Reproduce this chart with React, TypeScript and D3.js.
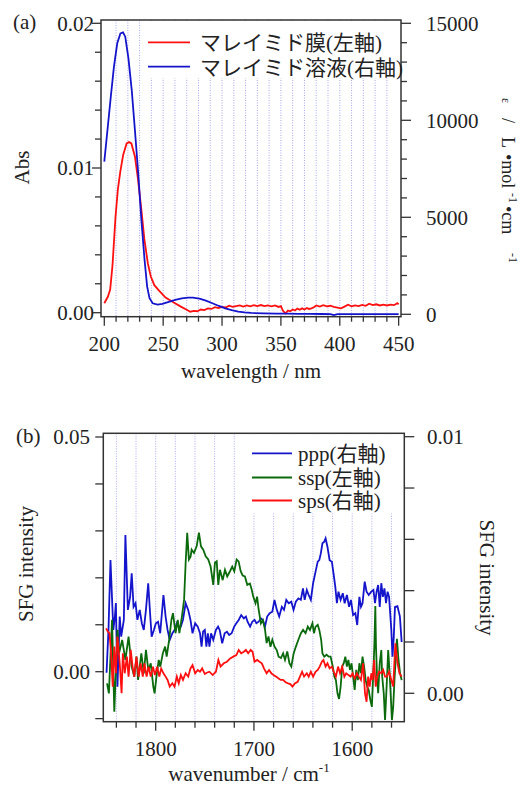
import React from "react";
import * as d3 from "d3";

// (a) UV spectra: [wavelength nm, value]
const FILM_ABS: [number, number][] = [
  [200, 0.00065], [203, 0.0011], [205, 0.0016], [207, 0.0033], [209.5, 0.0066], [211.5, 0.0085],
  [213.5, 0.0097], [216, 0.0109], [219, 0.0117], [221, 0.0118], [223, 0.0117], [226, 0.0108],
  [228.5, 0.0093], [231.5, 0.0071], [234, 0.0051], [237, 0.0034], [239.5, 0.0025], [242.5, 0.0019],
  [246.5, 0.00152], [252, 0.00105], [259, 0.0007], [265, 0.00042], [270, 0.0002], [273, 0.00007],
  [276, 0.00012], [279, 0.0001], [282, 0.00022], [285, 0.00018], [288, 0.0003], [291, 0.00026],
  [294, 0.00038], [297, 0.00032], [300, 0.0004], [303, 0.00036], [306, 0.00048], [309, 0.0004],
  [312, 0.00046], [315, 0.0005], [318, 0.00042], [321, 0.0005], [324, 0.00044], [327, 0.00052],
  [330, 0.00046], [333, 0.00053], [336, 0.00045], [339, 0.0005], [342, 0.00044], [345, 0.0005],
  [348, 0.0004], [350, 0.00046], [352, 0.0001], [354, -0.00005], [356, 0.00015], [358, 0.0001],
  [360, 0.00022], [362, 0.00015], [364, 0.00028], [366, 0.0002], [368, 0.0003], [370, 0.00022],
  [372, 0.00032], [374, 0.00026], [376, 0.0003], [378, 0.00038], [380, 0.0005], [383, 0.00042],
  [386, 0.00052], [389, 0.00044], [392, 0.00048], [395, 0.0004], [398, 0.00035], [401, 0.0003],
  [404, 0.00042], [407, 0.00055], [410, 0.00044], [413, 0.0005], [416, 0.00046], [419, 0.00054],
  [422, 0.00048], [425, 0.00062], [428, 0.00052], [431, 0.00058], [434, 0.0005], [437, 0.00056],
  [440, 0.0005], [443, 0.00056], [446, 0.00052], [449, 0.00066], [450, 0.00058],
];

const SOLUTION_EPS: [number, number][] = [
  [200, 7870], [202.7, 9500], [205.5, 11200], [208.2, 12770], [211, 13970], [213.7, 14480],
  [215.9, 14530], [217.8, 14310], [220.5, 13190], [223.3, 11560], [226, 9500], [228.8, 7270],
  [231.5, 4860], [234.2, 2800], [236.4, 1430], [238.4, 830], [241.1, 570], [245.2, 500],
  [249.3, 540], [254.8, 640], [260.3, 740], [265.8, 820], [271.2, 860], [275.3, 860],
  [280.8, 810], [286.3, 705], [291.8, 570], [297.3, 430], [302.7, 310], [308.2, 220],
  [313.7, 140], [319.2, 100], [324.7, 70], [335.6, 50], [346.6, 35], [355, 30], [365, 25],
  [375, 20], [385, 15], [392, 10], [395, -40], [398, 5], [410, 10], [420, 5], [430, 10],
  [440, 5], [450, 10],
];

// (b) SFG spectra: [wavenumber cm-1, intensity]
const PPP: [number, number][] = [
  [1850, 0.0008], [1848, 0.0025], [1846, 0.00519], [1843.1, 0.00247], [1841.5, 0.003],
  [1840.5, 0.00352], [1838.9, 0.00026], [1836.6, 0.00299], [1835.1, 0.00221], [1832.4, 0.00286],
  [1830.8, 0.00617], [1828.3, 0.00325], [1826, 0.00376], [1824.4, 0.00468], [1822.5, 0.00337],
  [1820.5, 0.00351], [1818.6, 0.00286], [1816.2, 0.00325], [1814.1, 0.00273], [1812.1, 0.00247],
  [1809.9, 0.00325], [1807.6, 0.00429], [1805.7, 0.00312], [1804.1, 0.00221], [1801.8, 0.00247],
  [1799.8, 0.00273], [1797.6, 0.00279], [1795.4, 0.00234], [1792.1, 0.00383], [1789.9, 0.00299],
  [1787.9, 0.00247], [1785.7, 0.00208], [1783, 0.00234], [1780.8, 0.00247], [1778.5, 0.00273],
  [1776.5, 0.0026], [1774.4, 0.0026], [1772.2, 0.00286], [1769.5, 0.00351], [1766.9, 0.00325],
  [1764.6, 0.00286], [1762.5, 0.00234], [1759.8, 0.00273], [1757.2, 0.0026], [1754.9, 0.00234],
  [1753.3, 0.00182], [1751.8, 0.0024], [1750, 0.00247], [1748.4, 0.00182], [1746.9, 0.00234],
  [1745.3, 0.00182], [1743.6, 0.00234], [1741.4, 0.00208], [1738.7, 0.00247], [1736.5, 0.0026],
  [1734.9, 0.00247], [1732.3, 0.00195], [1729.8, 0.00234], [1727.5, 0.0024], [1725.2, 0.00227],
  [1722.7, 0.00234], [1720.1, 0.0026], [1717.9, 0.00273], [1715.5, 0.00286], [1713, 0.00305],
  [1710.3, 0.00292], [1708.2, 0.00299], [1706.5, 0.00279], [1703.9, 0.0026], [1701.7, 0.00279],
  [1699.4, 0.00286], [1697.5, 0.00273], [1695.2, 0.00279], [1692.9, 0.00292], [1691, 0.00286],
  [1688.8, 0.0026], [1686.5, 0.00299], [1684, 0.00312], [1681.3, 0.00318], [1679.1, 0.00364],
  [1676.7, 0.00325], [1674.3, 0.00299], [1671.6, 0.00337], [1669.4, 0.00325], [1667.1, 0.00364],
  [1664.6, 0.00351], [1662, 0.00357], [1659.7, 0.00325], [1657.4, 0.00357], [1654.8, 0.0037],
  [1652.3, 0.00364], [1650.1, 0.00409], [1648.4, 0.00364], [1646.2, 0.00403], [1644.3, 0.00383],
  [1642.1, 0.00364], [1639.8, 0.00429], [1637.3, 0.00474], [1635.1, 0.00513], [1633.5, 0.00519],
  [1631.9, 0.00546], [1630.3, 0.00585], [1628.4, 0.00591], [1627.1, 0.00604], [1625.2, 0.00571],
  [1623, 0.00519], [1620.7, 0.00513], [1618.8, 0.00461], [1617.2, 0.00415], [1615.6, 0.00351],
  [1614, 0.00396], [1611.8, 0.00364], [1609.6, 0.0039], [1607.7, 0.00351], [1605.4, 0.00383],
  [1603.2, 0.00337], [1601.3, 0.00364], [1599.1, 0.00305], [1596.8, 0.00312], [1594.9, 0.00266],
  [1592.7, 0.00376], [1591.1, 0.00337], [1589.5, 0.00351], [1587.3, 0.00435], [1585.4, 0.00396],
  [1583.2, 0.00383], [1580.6, 0.00396], [1578.4, 0.00403], [1576.8, 0.00351], [1575.2, 0.00396],
  [1573.6, 0.00422], [1572, 0.00337], [1570.4, 0.00429], [1568.8, 0.00376], [1567.2, 0.00409],
  [1565.6, 0.00351], [1564, 0.00396], [1562.5, 0.00376], [1560.2, 0.00247], [1559, 0.00143],
  [1557.7, 0.0022], [1556.5, 0.00337], [1554, 0.0034], [1551.5, 0.003], [1549.7, 0.002],
];

const SSP: [number, number][] = [
  [1849.5, -0.00248], [1847.6, -0.00462], [1844.4, 0.01105], [1842.1, -0.00855], [1838.9, 0.00891],
  [1837.3, 0.00393], [1834.1, 0.00677], [1830.8, 0.0025], [1827.6, 0.00748], [1824.4, 0.00107],
  [1821.8, -0.00107], [1819.5, 0.00321], [1817.9, -0.00177], [1814.6, 0.00393], [1812.1, -0.00034],
  [1809.9, 0.00464], [1807.5, 0.00036], [1805, 0.00179], [1802.4, -0.00321], [1801.1, -0.00462],
  [1799.2, -0.00107], [1796.9, 0.0025], [1795.3, 0.00107], [1792.7, 0.00393], [1790.4, 0.00534],
  [1788.8, 0.00321], [1786.3, 0.00677], [1784, 0.01105], [1782.4, 0.01248], [1779.8, 0.0082],
  [1777.5, 0.01105], [1775.9, 0.0082], [1773.3, 0.01175], [1771.1, 0.0153], [1769.5, 0.0232],
  [1767.9, 0.0296], [1766.2, 0.0239], [1764.5, 0.0245], [1763.4, 0.026], [1761, 0.0253],
  [1758.3, 0.0267], [1756, 0.0296], [1753.9, 0.0267], [1751.6, 0.026], [1749.1, 0.0246],
  [1746.5, 0.0239], [1744.1, 0.0224], [1741.4, 0.0185], [1739.7, 0.0232], [1737.9, 0.0235],
  [1736.3, 0.0185], [1734.6, 0.0217], [1731.8, 0.0195], [1729.5, 0.0217], [1727.2, 0.0203],
  [1724.4, 0.0214], [1722.1, 0.0224], [1720, 0.0214], [1717.6, 0.0239], [1715.6, 0.0235],
  [1713.5, 0.0214], [1711.5, 0.0205], [1709.2, 0.0203], [1706.8, 0.0185], [1704.1, 0.0188],
  [1702.3, 0.0175], [1700.7, 0.016], [1698.4, 0.0146], [1696.8, 0.016], [1695.2, 0.0132],
  [1692.9, 0.0103], [1690.9, 0.011], [1688.7, 0.0089], [1687.1, 0.0061], [1685.2, 0.0075],
  [1683.2, 0.0053], [1681.3, 0.0068], [1679, 0.0053], [1676.8, 0.0046], [1674.9, 0.0032],
  [1672.5, 0.0029], [1670.3, 0.0039], [1668.4, 0.0025], [1666.1, 0.0043], [1663.9, 0.0018],
  [1662, 0.0011], [1659.6, 0.0039], [1657.4, 0.0053], [1654.8, 0.0068], [1652.2, 0.0082],
  [1650, 0.0089], [1647.5, 0.0082], [1645.2, 0.0096], [1643, 0.0089], [1640.5, 0.0103],
  [1638.9, 0.0082], [1637.3, 0.0096], [1635.1, 0.01], [1633.5, 0.0089], [1631.6, 0.0068],
  [1630.3, 0.0039], [1628.4, 0.0032], [1626.1, 0.0036], [1623.9, 0.0032], [1622, 0.0032],
  [1619.8, 0.0011], [1618.2, -0.001], [1616.6, -0.0018], [1615, -0.0046], [1613.4, -0.0058],
  [1611.8, -0.0032], [1610.2, 0.0011], [1608.6, 0.0018], [1607, 0.0032], [1605.4, 0.0011],
  [1603.9, 0.0025], [1602.3, 0.0004], [1600.7, 0.0018], [1599.1, -0.001], [1597.5, -0.0039],
  [1595.9, 0.0004], [1594.3, -0.0018], [1592.7, 0.0018], [1591.1, -0.0003], [1589.5, 0.0032],
  [1587.9, 0.0011], [1586.3, -0.0018], [1584.7, -0.0032], [1583.2, -0.0039], [1581.6, -0.006],
  [1580, -0.0075], [1578.4, 0.0004], [1577.4, 0.0061], [1576.5, 0.014], [1575.8, 0.0053],
  [1574.6, -0.0018], [1573.6, -0.0046], [1572, 0.0018], [1570.4, 0.0046], [1569.5, -0.001],
  [1567.9, -0.0046], [1566.6, -0.0103], [1565, -0.0032], [1563.4, 0.0046], [1562.1, 0.0004],
  [1560.9, -0.0046], [1559.6, -0.0103], [1558.3, -0.0075], [1557, -0.0018], [1555.8, 0.0025],
  [1554.5, 0.007], [1552.9, 0.0025], [1551.3, -0.0003], [1549.7, -0.0018],
];

const SPS: [number, number][] = [
  [1850.5, 0.00253], [1848.6, 0.0024], [1847, 0.00234], [1845.4, 0.00156], [1843.7, 0.00026],
  [1842.1, 0.00182], [1840.5, 0.00078], [1838.9, 0.00221], [1836.6, 0.00117], [1834.7, 0.0],
  [1833.4, 0.00156], [1831.5, 0.00078], [1829.3, 0.00143], [1827.6, 0.00065], [1825.4, 0.00169],
  [1823.5, 0.00104], [1821.8, 0.00065], [1819.6, 0.00143], [1817.3, 0.00065], [1815.3, 0.00117],
  [1813.1, 0.00065], [1811.5, 0.00117], [1809.2, 0.00065], [1807.3, 0.00104], [1805, 0.00065],
  [1802.7, 0.00104], [1800.8, 0.00071], [1798.5, 0.00104], [1796.3, 0.00065], [1794.4, 0.00097],
  [1792.1, 0.00078], [1789.9, 0.00065], [1787.9, 0.00052], [1785.7, 0.00026], [1783, 0.00039],
  [1780.8, 0.00026], [1778.5, 0.00065], [1776.5, 0.00039], [1774.4, 0.00071], [1772.2, 0.00052],
  [1769.5, 0.00078], [1766.9, 0.00065], [1764.6, 0.00097], [1762.5, 0.0011], [1759.8, 0.00078],
  [1757.2, 0.00091], [1754.9, 0.00084], [1752.7, 0.00097], [1750, 0.00075], [1748, 0.0008],
  [1745.3, 0.00084], [1742, 0.00071], [1738.7, 0.00084], [1736.2, 0.0013], [1734, 0.00104],
  [1730.7, 0.00117], [1727.5, 0.00123], [1724.2, 0.00136], [1721, 0.00143], [1717.9, 0.00149],
  [1715.5, 0.00169], [1713, 0.00156], [1710.3, 0.00162], [1708.2, 0.00169], [1705.9, 0.00156],
  [1703.3, 0.00169], [1701.4, 0.00162], [1699.4, 0.00123], [1696.8, 0.0013], [1694.3, 0.00123],
  [1692, 0.00117], [1689.8, 0.00097], [1687.1, 0.00078], [1684.6, 0.00091], [1682.3, 0.00078],
  [1680.1, 0.00071], [1677.5, 0.00065], [1674.9, 0.00058], [1672.7, 0.00052], [1670.4, 0.00052],
  [1667.8, 0.00043], [1665.3, 0.00039], [1663, 0.00036], [1660.8, 0.00026], [1658.1, 0.00039],
  [1655.5, 0.00045], [1653.2, 0.00065], [1651, 0.00084], [1649, 0.00065], [1646.2, 0.00078],
  [1644.3, 0.00065], [1642.1, 0.00084], [1639.8, 0.00065], [1637.3, 0.00084], [1635.1, 0.00091],
  [1633.1, 0.00104], [1630.9, 0.00123], [1629.3, 0.0013], [1627.1, 0.00104], [1625.2, 0.00117],
  [1623, 0.00097], [1620.7, 0.00104], [1618.8, 0.00084], [1616.6, 0.00065], [1614.4, 0.00104],
  [1612.4, 0.00078], [1610.2, 0.00104], [1608, 0.00065], [1606.1, 0.00078], [1603.8, 0.00071],
  [1601.6, 0.00065], [1599.7, 0.00078], [1597.5, 0.00058], [1595.3, 0.00078], [1593.3, 0.00065],
  [1591.1, 0.00052], [1588.9, 0.00117], [1587, 0.0], [1585.4, -0.00033], [1583.8, 0.00065],
  [1582.2, 0.00026], [1580.6, 0.00078], [1579.3, 0.00052], [1577.7, 0.0013], [1576.1, 0.00026],
  [1574.6, 0.00065], [1572.6, 0.00084], [1570.4, 0.00078], [1568.5, 0.00091], [1566.6, 0.00065],
  [1564.7, 0.00065], [1562.5, 0.00084], [1560.2, 0.00052], [1558.3, 0.00026], [1556.1, 0.00195],
  [1553.9, 0.00117], [1551.9, 0.00078], [1549.7, 0.00065],
];

const TOP_X_TICKS = d3.range(200, 451, 10);
const TOP_X_LABELS = [200, 250, 300, 350, 400, 450];
const ABS_TICKS = d3.range(0, 0.0201, 0.002);
const ABS_LABELS = [0, 0.01, 0.02];
const EPS_TICKS = d3.range(0, 15001, 1000);
const EPS_LABELS = [0, 5000, 10000, 15000];
const WN_TICKS = d3.range(1840, 1559, -20);
const WN_LABELS = [1800, 1700, 1600];
const SSP_TICKS = d3.range(-0.01, 0.0501, 0.01);
const SSP_LABELS = [0, 0.05];
const PS_TICKS = d3.range(0, 0.01001, 0.002);
const PS_LABELS = [0, 0.01];

const SERIF = "'Liberation Serif', 'Times New Roman', serif";
const JP = "'Liberation Serif', 'Noto Sans CJK JP', sans-serif";
const RED = "#ff1010";
const BLUE = "#1414cc";
const GREEN = "#0b6a0b";
const AXIS = "#333";
const GRID = "#a8a8f0";

export default function App() {
  // panel (a)
  const xNm = d3.scaleLinear().domain([197.2, 452]).range([101, 401]);
  const yAbs = d3.scaleLinear().domain([0, 0.02]).range([312.7, 23.3]);
  const yEps = d3.scaleLinear().domain([0, 15000]).range([314.3, 23.3]);
  const A = { l: 101, r: 401, t: 20, b: 316.7 };

  // panel (b)
  const xWn = d3.scaleLinear().domain([1853.3, 1547]).range([103.3, 404.3]);
  const ySsp = d3.scaleLinear().domain([0, 0.05]).range([671.7, 437]);
  const yPs = d3.scaleLinear().domain([0, 0.01]).range([693.3, 436.7]);
  const B = { l: 103.3, r: 404.3, t: 433.3, b: 721.7 };

  const lineA = (y: d3.ScaleLinear<number, number>) =>
    d3.line<[number, number]>().x((d) => xNm(d[0])).y((d) => y(d[1]));
  const lineB = (y: d3.ScaleLinear<number, number>) =>
    d3.line<[number, number]>().x((d) => xWn(d[0])).y((d) => y(d[1]));

  const f2 = d3.format(".2f");

  return (
    <svg
      width={532}
      height={787}
      style={{ position: "absolute", left: 0, top: 0, background: "#fff" }}
      fontFamily={SERIF}
    >
      <rect width={532} height={787} fill="#fff" />

      {/* ---------- (a) ---------- */}
      {TOP_X_TICKS.slice(1, -1).map((t) => (
        <line key={"ga" + t} x1={xNm(t)} x2={xNm(t)} y1={A.t} y2={A.b}
          stroke={GRID} strokeDasharray="1,1.5" strokeWidth={1} />
      ))}
      <rect x={146} y={A.t + 1} width={A.r - 147} height={57} fill="#fff" />

      <path d={lineA(yAbs)(FILM_ABS) ?? ""} fill="none" stroke={RED} strokeWidth={1.8} />
      <path d={lineA(yEps)(SOLUTION_EPS) ?? ""} fill="none" stroke={BLUE} strokeWidth={1.8} />

      <rect x={A.l} y={A.t} width={A.r - A.l} height={A.b - A.t} fill="none" stroke={AXIS} strokeWidth={1.5} />

      {ABS_TICKS.map((t) => {
        const major = ABS_LABELS.some((v) => Math.abs(v - t) < 1e-9);
        return <line key={"ta" + t} x1={A.l} x2={A.l - (major ? 9 : 6)} y1={yAbs(t)} y2={yAbs(t)} stroke={AXIS} strokeWidth={1.3} />;
      })}
      {ABS_LABELS.map((t) => (
        <text key={"la" + t} x={94} y={yAbs(t)} dy="0.35em" textAnchor="end" fontSize={21} fill="#222">{f2(t)}</text>
      ))}
      {EPS_TICKS.map((t) => {
        const major = EPS_LABELS.includes(t);
        return <line key={"te" + t} x1={A.r} x2={A.r + (major ? 10 : 6)} y1={yEps(t)} y2={yEps(t)} stroke={AXIS} strokeWidth={1.3} />;
      })}
      {EPS_LABELS.map((t) => (
        <text key={"le" + t} x={426} y={yEps(t)} dy="0.35em" fontSize={21} fill="#222">{t}</text>
      ))}
      {TOP_X_TICKS.map((t) => {
        const major = TOP_X_LABELS.includes(t);
        return <line key={"tx" + t} x1={xNm(t)} x2={xNm(t)} y1={A.b} y2={A.b + (major ? 9 : 5)} stroke={AXIS} strokeWidth={1.3} />;
      })}
      {TOP_X_LABELS.map((t) => (
        <text key={"lx" + t} x={xNm(t)} y={351} textAnchor="middle" fontSize={21} fill="#222">{t}</text>
      ))}
      <text x={251} y={378} textAnchor="middle" fontSize={21} fill="#222">wavelength / nm</text>
      <text transform="translate(29,167.5) rotate(-90)" textAnchor="middle" fontSize={21} fill="#222">Abs</text>
      <text x={13} y={29} fontSize={21} fill="#222">(a)</text>
      <text transform="translate(502,0) rotate(90)" fontSize={18} fill="#222">
        <tspan x={98} y={0} fontSize={12}>ε</tspan>
        <tspan x={118} y={0}>/</tspan>
        <tspan x={137} y={0}>L</tspan>
        <tspan x={154} y={0}>•mol</tspan>
        <tspan x={193} y={-7} fontSize={12}>-1</tspan>
        <tspan x={206} y={0}>•cm</tspan>
        <tspan x={253} y={-7} fontSize={12}>-1</tspan>
      </text>

      <line x1={148} x2={190} y1={42.3} y2={42.3} stroke={RED} strokeWidth={1.8} />
      <text x={200} y={50} fontSize={21} fontFamily={JP} fill="#222">マレイミド膜(左軸)</text>
      <line x1={148} x2={190} y1={66.7} y2={66.7} stroke={BLUE} strokeWidth={1.8} />
      <text x={200} y={74.5} fontSize={21} fontFamily={JP} fill="#222">マレイミド溶液(右軸)</text>

      {/* ---------- (b) ---------- */}
      {WN_TICKS.map((t) => (
        <line key={"gb" + t} x1={xWn(t)} x2={xWn(t)} y1={B.t} y2={B.b}
          stroke={GRID} strokeDasharray="1,1.5" strokeWidth={1} />
      ))}
      <rect x={247} y={B.t + 1} width={B.r - 248} height={79} fill="#fff" />

      <path d={lineB(yPs)(PPP) ?? ""} fill="none" stroke={BLUE} strokeWidth={1.8} />
      <path d={lineB(ySsp)(SSP) ?? ""} fill="none" stroke={GREEN} strokeWidth={1.8} />
      <path d={lineB(yPs)(SPS) ?? ""} fill="none" stroke={RED} strokeWidth={1.8} />

      <rect x={B.l} y={B.t} width={B.r - B.l} height={B.b - B.t} fill="none" stroke={AXIS} strokeWidth={1.5} />

      {SSP_TICKS.map((t) => (
        <line key={"ts" + t} x1={B.l} x2={B.l - 8} y1={ySsp(t)} y2={ySsp(t)} stroke={AXIS} strokeWidth={1.3} />
      ))}
      {SSP_LABELS.map((t) => (
        <text key={"ls" + t} x={90} y={ySsp(t)} dy="0.35em" textAnchor="end" fontSize={21} fill="#222">{f2(t)}</text>
      ))}
      {PS_TICKS.map((t) => (
        <line key={"tp" + t} x1={B.r} x2={B.r + 10} y1={yPs(t)} y2={yPs(t)} stroke={AXIS} strokeWidth={1.3} />
      ))}
      {PS_LABELS.map((t) => (
        <text key={"lp" + t} x={427} y={yPs(t)} dy="0.35em" fontSize={21} fill="#222">{f2(t)}</text>
      ))}
      {WN_TICKS.map((t) => {
        const major = WN_LABELS.includes(t);
        return <line key={"tw" + t} x1={xWn(t)} x2={xWn(t)} y1={B.b} y2={B.b + (major ? 9 : 6)} stroke={AXIS} strokeWidth={1.3} />;
      })}
      {WN_LABELS.map((t) => (
        <text key={"lw" + t} x={xWn(t)} y={756} textAnchor="middle" fontSize={21} fill="#222">{t}</text>
      ))}
      <text x={249} y={781} textAnchor="middle" fontSize={21} fill="#222">
        wavenumber / cm<tspan dy={-9} fontSize={13}>-1</tspan>
      </text>
      <text x={16} y={443} fontSize={21} fill="#222">(b)</text>
      <text transform="translate(33,564) rotate(-90)" textAnchor="middle" fontSize={21} fill="#222">SFG intensity</text>
      <text transform="translate(480,577.5) rotate(90)" textAnchor="middle" fontSize={21} fill="#222">SFG intensity</text>

      <line x1={252} x2={292} y1={453.3} y2={453.3} stroke={BLUE} strokeWidth={1.8} />
      <text x={298} y={461} fontSize={21} fontFamily={JP} fill="#222">ppp(右軸)</text>
      <line x1={252} x2={292} y1={477.5} y2={477.5} stroke={GREEN} strokeWidth={1.8} />
      <text x={298} y={485} fontSize={21} fontFamily={JP} fill="#222">ssp(左軸)</text>
      <line x1={252} x2={292} y1={500.5} y2={500.5} stroke={RED} strokeWidth={1.8} />
      <text x={298} y={508} fontSize={21} fontFamily={JP} fill="#222">sps(右軸)</text>
    </svg>
  );
}
